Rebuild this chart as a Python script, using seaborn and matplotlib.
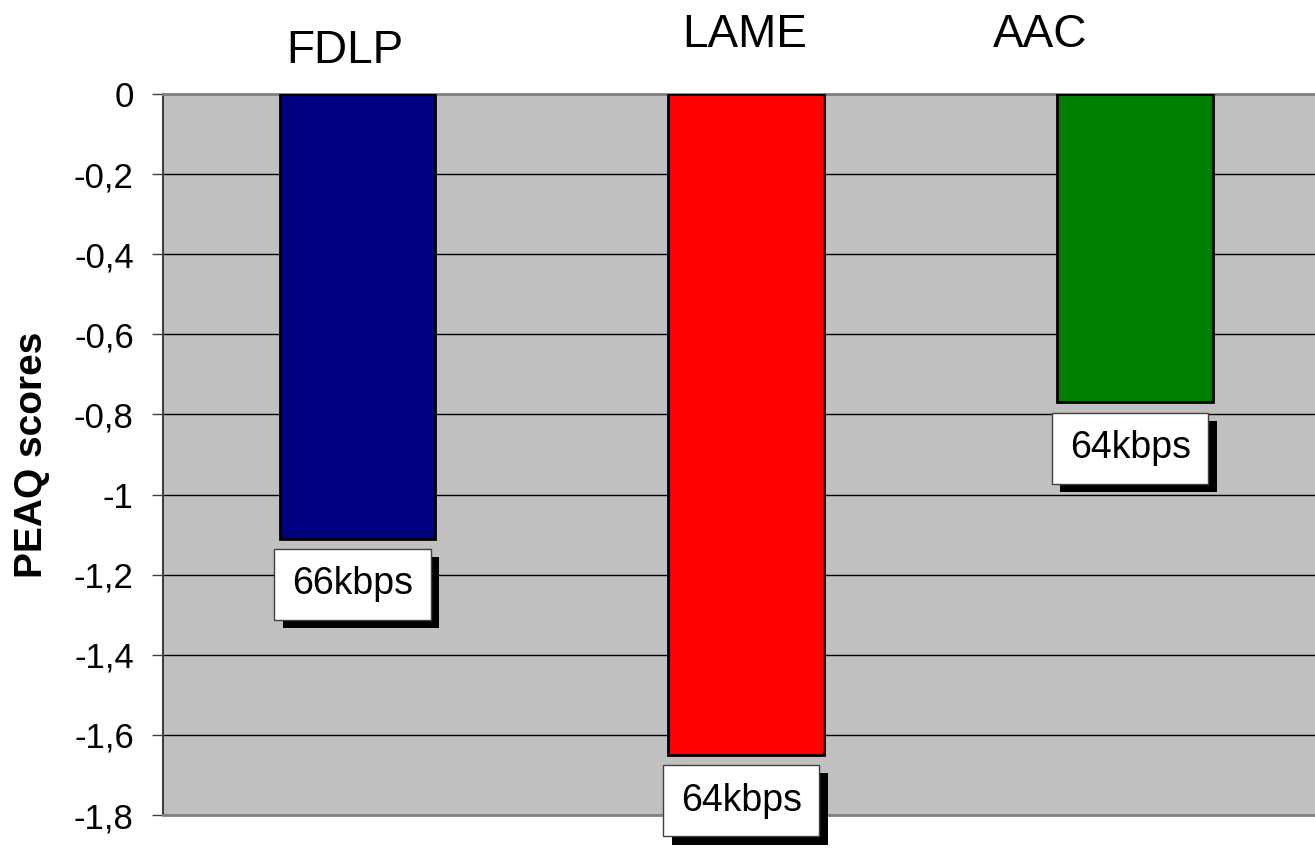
import matplotlib
matplotlib.use("Agg")
import matplotlib.pyplot as plt
import matplotlib.patheffects as pe
import numpy as np
import pandas as pd
import seaborn as sns

codecs = ['FDLP', 'LAME', 'AAC']
scores = [-1.11, -1.65, -0.77]
bitrates = ['66kbps', '64kbps', '64kbps']
colors = ['#000080', '#FF0000', '#008000']
yticks = [0, -0.2, -0.4, -0.6, -0.8, -1, -1.2, -1.4, -1.6, -1.8]

df = pd.DataFrame({'codec': codecs, 'score': scores})

sns.set_theme(style='white')
plt.rcParams['font.family'] = ['Liberation Sans', 'DejaVu Sans']
plt.rcParams['text.color'] = 'black'
plt.rcParams['axes.labelcolor'] = 'black'
plt.rcParams['ytick.labelcolor'] = 'black'

fig = plt.figure(figsize=(13.15, 8.52), dpi=100)
ax = fig.add_axes([163 / 1315, 1 - 815 / 852, 1 - 163 / 1315, (815 - 94) / 852])
ax.set_facecolor('#C0C0C0')

sns.barplot(data=df, x='codec', y='score', hue='codec', palette=colors,
            saturation=1, width=0.40, edgecolor='black', linewidth=2,
            legend=False, ax=ax, zorder=3)

ax.set_ylim(-1.8, 0)
ax.set_xlim(-0.5, 2.463)
ax.set_yticks(yticks)
ax.set_yticklabels([('%g' % t).replace('.', ',') for t in yticks], fontsize=25)
ax.tick_params(axis='y', length=8, width=1, color='#404040', left=True, pad=13)
ax.set_xticks([])
ax.set_xlabel('')
ax.set_ylabel('PEAQ scores', fontsize=28, fontweight='bold')
ax.yaxis.set_label_coords(-0.098, 0.5)
ax.yaxis.grid(True, color='black', linewidth=1)
ax.set_axisbelow(True)

for side in ['top', 'bottom']:
    ax.spines[side].set_color('#808080')
    ax.spines[side].set_linewidth(2)
ax.spines['left'].set_color('#404040')
ax.spines['left'].set_linewidth(1.5)
ax.spines['right'].set_visible(False)

# codec names above the plot
name_offsets = [-0.033, -0.005, -0.244]
name_heights = [1.043, 1.065, 1.065]
for i, name in enumerate(codecs):
    ax.text(i + name_offsets[i], name_heights[i], name, fontsize=33,
            ha='center', va='baseline', transform=ax.get_xaxis_transform(),
            clip_on=False)

# bitrate boxes under each bar
for i, (val, rate) in enumerate(zip(scores, bitrates)):
    t = ax.annotate(rate, xy=(i, val), xytext=(-3.5, -20), textcoords='offset points',
                    ha='center', va='top', fontsize=27, zorder=5,
                    annotation_clip=False,
                    bbox=dict(boxstyle='square,pad=0.47', facecolor='white',
                              edgecolor='#404040', linewidth=1))
    t.get_bbox_patch().set_path_effects([
        pe.SimplePatchShadow(offset=(6, -6), shadow_rgbFace='black', alpha=1),
        pe.Normal()])

fig.savefig('out.png', dpi=100)
